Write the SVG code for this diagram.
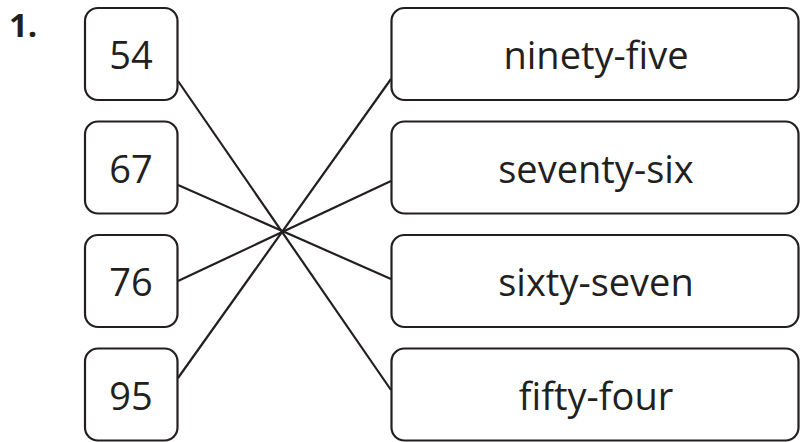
<svg xmlns="http://www.w3.org/2000/svg" width="802" height="442" viewBox="0 0 802 442">
<style>
.box{fill:#fff;stroke:#231f20;stroke-width:2.2}
.t{font-family:"Open Sans","Noto Sans",sans-serif;font-size:38px;fill:#231f20;text-anchor:middle}
.w{font-family:"Open Sans","Noto Sans",sans-serif;font-size:38px;fill:#231f20;text-anchor:middle}
.ln{stroke:#231f20;stroke-width:2.2;fill:none}
</style>
<rect width="802" height="442" fill="#fff"/>
<text x="9" y="37" font-family="'Open Sans','Noto Sans',sans-serif" font-weight="bold" font-size="33" fill="#231f20">1.</text>
<g id="connectors">
<line class="ln" x1="178" y1="81" x2="391" y2="390"/>
<line class="ln" x1="178" y1="185" x2="391" y2="279"/>
<line class="ln" x1="178" y1="281" x2="391" y2="181"/>
<line class="ln" x1="178" y1="378" x2="391" y2="79"/>
</g>
<g id="n54"><rect class="box" x="85" y="8" width="92.5" height="92" rx="13"/><text class="t" x="131" y="69">54</text></g>
<g id="n67"><rect class="box" x="85" y="121.5" width="92.5" height="92" rx="13"/><text class="t" x="131" y="183">67</text></g>
<g id="n76"><rect class="box" x="85" y="235" width="92.5" height="92" rx="13"/><text class="t" x="131" y="296">76</text></g>
<g id="n95"><rect class="box" x="85" y="348.5" width="92.5" height="92" rx="13"/><text class="t" x="131" y="410">95</text></g>
<g id="w95"><rect class="box" x="391.5" y="8" width="407" height="92" rx="13"/><text class="w" x="596" y="69">ninety-five</text></g>
<g id="w76"><rect class="box" x="391.5" y="121.5" width="407" height="92" rx="13"/><text class="w" x="596" y="183">seventy-six</text></g>
<g id="w67"><rect class="box" x="391.5" y="235" width="407" height="92" rx="13"/><text class="w" x="596" y="296">sixty-seven</text></g>
<g id="w54"><rect class="box" x="391.5" y="348.5" width="407" height="92" rx="13"/><text class="w" x="596" y="410">fifty-four</text></g>
</svg>
